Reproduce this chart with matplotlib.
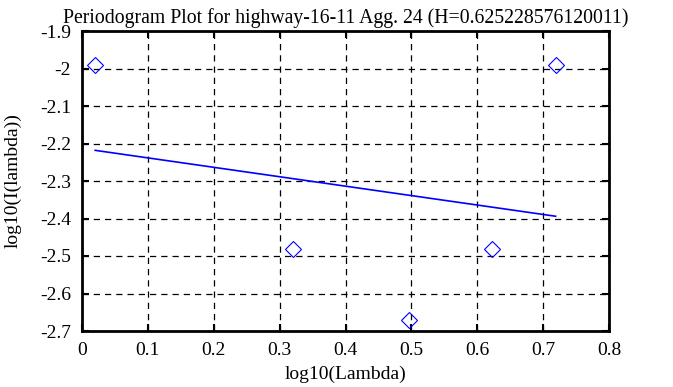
import numpy as np
import matplotlib
matplotlib.use('Agg')
import matplotlib.pyplot as plt

# periodogram points (log10 frequency vs log10 periodogram)
lam = np.log10(np.array([1, 2, 3, 4, 5]) * np.pi / 3)
logI = [-1.991, -2.481, -2.670, -2.481, -1.991]
title = 'Periodogram Plot for highway-16-11 Agg. 24 (H=0.625228576120011)'

plt.rcParams['font.family'] = ['Liberation Serif', 'DejaVu Serif']
plt.rcParams['font.size'] = 14

W, H = 673, 387
fig = plt.figure(figsize=(W / 100, H / 100), dpi=100)
ax = fig.add_axes([82 / W, 1 - 331 / H, (609 - 82) / W, (331 - 31) / H])

slope, icpt = np.polyfit(lam, logI, 1)
ax.plot(lam, icpt + slope * lam, color='#0000ff', lw=1.2)
ax.plot(lam, logI, ls='none', marker='D', ms=8, mfc='none', mec='#0000ff', mew=0.8)

ax.set_xlim(0, 0.8)
ax.set_ylim(-2.7, -1.9)
ax.set_xticks(np.arange(0, 0.81, 0.1))
ax.set_yticks(np.arange(-2.7, -1.89, 0.1))
ax.set_xticklabels(['0', '0.1', '0.2', '0.3', '0.4', '0.5', '0.6', '0.7', '0.8'])
ax.set_yticklabels(['-2.7', '-2.6', '-2.5', '-2.4', '-2.3', '-2.2', '-2.1', '-2', '-1.9'])
ax.grid(True, color='black', ls=(0, (5, 4)), lw=0.9)
ax.tick_params(direction='in', top=True, right=True, length=5, width=1.5, pad=8)
for s in ax.spines.values():
    s.set_linewidth(2)

ax.set_title(title, fontsize=14.2, pad=6)
ax.set_xlabel('log10(Lambda)', labelpad=5)
ax.set_ylabel('log10(I(lambda))', labelpad=13)

fig.savefig('out.png', dpi=100)
